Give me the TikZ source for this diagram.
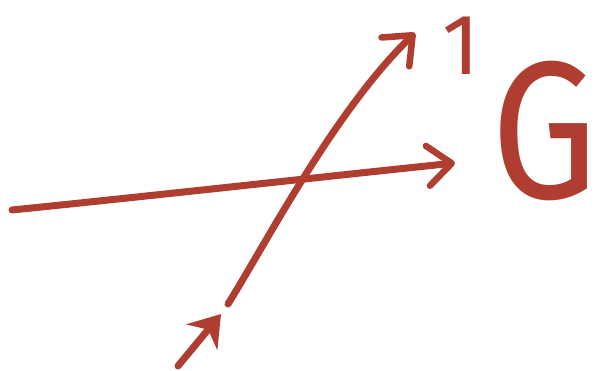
\documentclass[tikz,border=0pt]{standalone}
\usepackage{fontspec}
\setmainfont{Fira Sans}
\usetikzlibrary{arrows.meta}
\definecolor{ink}{RGB}{176,62,48}
\begin{document}
\begin{tikzpicture}[x=1pt,y=-1pt,
  stroke/.style={draw=ink,line width=7pt,line cap=round,line join=round},
  barb/.style={-{Straight Barb[length=24pt,width=40pt,line width=6.5pt,round]}},
  lbl/.style={text=ink,inner sep=0pt,anchor=center}]
\useasboundingbox (0,0) rectangle (603,371);
\fill[white] (0,0) rectangle (603,371);
\coordinate (hstart) at (12,210);
\coordinate (hend) at (455,163);
\coordinate (dstart) at (228,304);
\coordinate (dend) at (415,33);
\coordinate (astart) at (178,366);
\coordinate (aend) at (221,314);
\node[lbl,font=\fontsize{86}{86}\selectfont] (one) at (461,46) {1};
\node[lbl,font=\fontsize{196}{196}\selectfont,xscale=0.86] (G) at (545,131) {G};
\draw[stroke,barb] (hstart) .. controls (150,196) and (330,176) .. (hend);
\draw[stroke,barb] (dstart) .. controls (265,245) and (335,110) .. (dend);
\draw[stroke,-{Stealth[length=30pt,width=40pt]}] (astart) -- (aend);
\end{tikzpicture}
\end{document}
